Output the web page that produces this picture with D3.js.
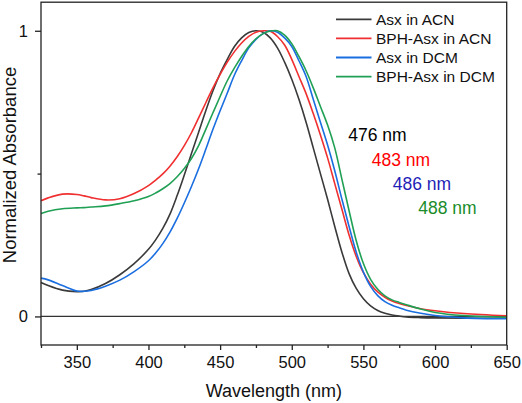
<!DOCTYPE html>
<html><head><meta charset="utf-8">
<script src="https://cdn.jsdelivr.net/npm/d3@7"></script>
<style>body{margin:0;background:#fff}svg{display:block}text{font-family:"Liberation Sans",Arial,sans-serif}</style>
</head><body><svg id="c" width="522" height="403"></svg>
<script>
const wavelengths = [325,330,340,350,355,360,370,380,390,400,405,410,415,420,425,430,435,440,445,450,455,460,465,470,475,480,485,490,495,500,505,510,515,520,525,530,535,540,545,550,555,560,565,570,575,580,590,600,620,650];
const asxACN    = [0.119,0.108,0.092,0.087,0.088,0.094,0.115,0.146,0.185,0.235,0.268,0.308,0.358,0.423,0.495,0.57,0.645,0.72,0.79,0.85,0.90,0.945,0.975,0.994,1.0,0.995,0.975,0.94,0.89,0.83,0.76,0.68,0.59,0.50,0.41,0.315,0.225,0.15,0.098,0.062,0.037,0.021,0.011,0.005,0.001,-0.002,-0.004,-0.005,-0.006,-0.006];
const bphACN    = [0.405,0.415,0.428,0.427,0.422,0.416,0.408,0.412,0.43,0.458,0.477,0.499,0.526,0.559,0.598,0.643,0.695,0.748,0.80,0.847,0.89,0.927,0.957,0.98,0.995,1.0,0.998,0.98,0.95,0.90,0.84,0.78,0.71,0.635,0.555,0.465,0.375,0.285,0.21,0.153,0.113,0.086,0.067,0.054,0.045,0.038,0.027,0.02,0.01,0.002];
const asxDCM    = [0.134,0.128,0.108,0.089,0.088,0.091,0.106,0.127,0.157,0.195,0.222,0.255,0.295,0.343,0.397,0.455,0.517,0.585,0.655,0.72,0.782,0.845,0.895,0.94,0.97,0.99,1.0,0.995,0.975,0.945,0.895,0.84,0.76,0.68,0.60,0.51,0.41,0.315,0.225,0.155,0.105,0.073,0.052,0.039,0.03,0.022,0.011,0.003,-0.005,-0.008];
const bphDCM    = [0.36,0.368,0.377,0.38,0.381,0.383,0.387,0.395,0.405,0.42,0.432,0.447,0.465,0.489,0.518,0.553,0.598,0.655,0.713,0.77,0.825,0.87,0.91,0.945,0.972,0.99,0.999,1.0,0.985,0.955,0.91,0.86,0.80,0.735,0.67,0.59,0.48,0.37,0.265,0.185,0.13,0.095,0.072,0.058,0.049,0.041,0.026,0.014,0.003,-0.003];
const seriesNames = ["Asx in ACN","BPH-Asx in ACN","Asx in DCM","BPH-Asx in DCM"];
const seriesColors = ["#3a3a3a","#f03030","#1a6ee0","#20a055"];
const peakLabels = ["476 nm","483 nm","486 nm","488 nm"];
const peakColors = ["#000000","#ff0000","#1f1fb8","#1a8c2a"];
const xTicks = [350,400,450,500,550,600,650];
const yTicks = [0,1];

const svg = d3.select("#c");
const x = d3.scaleLinear().domain([325,650]).range([41,506.7]);
const y = d3.scaleLinear().domain([-0.1,1.1]).range([345,2.2]);
const allSeries = [asxACN,bphACN,asxDCM,bphDCM];

svg.append("line").attr("x1",x(325)).attr("x2",x(650)).attr("y1",y(0)).attr("y2",y(0))
  .attr("stroke","#333").attr("stroke-width",1.3);

const line = d3.line().x(d=>x(d[0])).y(d=>y(d[1])).curve(d3.curveCatmullRom.alpha(0.5));
allSeries.forEach((s,i)=>{
  svg.append("path").datum(wavelengths.map((w,j)=>[w,s[j]]))
    .attr("d",line).attr("fill","none").attr("stroke",seriesColors[i]).attr("stroke-width",1.6);
});

svg.append("rect").attr("x",x(325)).attr("y",y(1.1)).attr("width",x(650)-x(325)).attr("height",y(-0.1)-y(1.1))
  .attr("fill","none").attr("stroke","#222").attr("stroke-width",1.3);

const xAxis = d3.axisBottom(x).tickValues(xTicks).tickSize(5).tickSizeOuter(0).tickPadding(6);
const gx = svg.append("g").attr("transform",`translate(0,${y(-0.1)})`).call(xAxis);
gx.select(".domain").remove();
gx.selectAll(".tick line").attr("stroke","#222").attr("stroke-width",1.3);
gx.selectAll(".tick text").attr("font-size",16.5).attr("fill","#111").attr("font-family","Liberation Sans, Arial, sans-serif");
const xMinor = d3.axisBottom(x).tickValues([325,375,425,475,525,575,625]).tickSize(3).tickSizeOuter(0).tickFormat("");
const gxm = svg.append("g").attr("transform",`translate(0,${y(-0.1)})`).call(xMinor);
gxm.select(".domain").remove();
gxm.selectAll(".tick line").attr("stroke","#222").attr("stroke-width",1.3);

const yAxis = d3.axisLeft(y).tickValues(yTicks).tickSize(6).tickSizeOuter(0).tickPadding(7).tickFormat(d3.format("d"));
const gy = svg.append("g").attr("transform",`translate(${x(325)},0)`).call(yAxis);
gy.select(".domain").remove();
gy.selectAll(".tick line").attr("stroke","#222").attr("stroke-width",1.3);
gy.selectAll(".tick text").attr("font-size",16.5).attr("fill","#111").attr("font-family","Liberation Sans, Arial, sans-serif");
const yMinor = d3.axisLeft(y).tickValues([0.5]).tickSize(3.5).tickSizeOuter(0).tickFormat("");
const gym = svg.append("g").attr("transform",`translate(${x(325)},0)`).call(yMinor);
gym.select(".domain").remove();
gym.selectAll(".tick line").attr("stroke","#222").attr("stroke-width",1.3);

svg.append("text").attr("x",(x(325)+x(650))/2).attr("y",397).attr("text-anchor","middle")
  .attr("font-size",18).attr("fill","#111").text("Wavelength (nm)");
svg.append("text").attr("transform","translate(15.5,165) rotate(-90)").attr("text-anchor","middle")
  .attr("font-size",18.5).attr("fill","#111").text("Normalized Absorbance");

const lg = svg.append("g");
seriesNames.forEach((n,i)=>{
  const yy = 19.3 + i*19.1;
  lg.append("line").attr("x1",336).attr("x2",371.5).attr("y1",yy).attr("y2",yy)
    .attr("stroke",seriesColors[i]).attr("stroke-width",1.8);
  lg.append("text").attr("x",376).attr("y",yy+5.5).attr("font-size",15.5).attr("fill","#111").text(n);
});

const annX = [348.3,371.7,392.7,418.3];
const annY = [140.7,166,189.5,214];
peakLabels.forEach((t,i)=>{
  svg.append("text").attr("x",annX[i]).attr("y",annY[i]).attr("font-size",17.5).attr("fill",peakColors[i]).text(t);
});
</script></body></html>
